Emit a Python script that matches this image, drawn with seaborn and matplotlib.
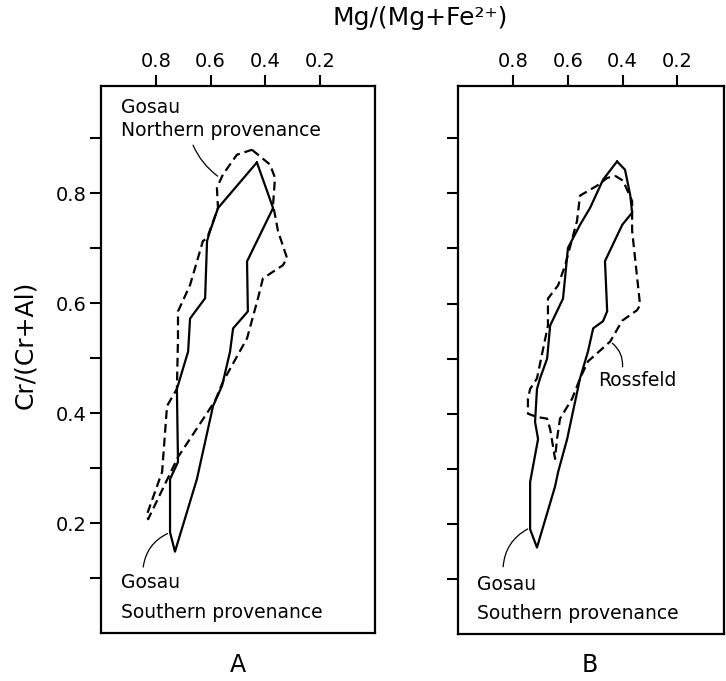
import numpy as np
import pandas as pd
import matplotlib
matplotlib.use("Agg")
import matplotlib.pyplot as plt
import seaborn as sns

# Outline of Gosau, southern provenance (panel A)
a_south_x = [0.431, 0.372, 0.467, 0.464, 0.518, 0.529, 0.558, 0.591, 0.650, 0.730,
             0.748, 0.748, 0.719, 0.723, 0.682, 0.675, 0.620, 0.613, 0.602, 0.573]
a_south_y = [0.856, 0.773, 0.676, 0.585, 0.554, 0.512, 0.450, 0.413, 0.280, 0.148,
             0.183, 0.280, 0.311, 0.444, 0.512, 0.572, 0.609, 0.713, 0.731, 0.773]

# Outline of Gosau, northern provenance (panel A)
a_north_x = [0.449, 0.383, 0.365, 0.372, 0.354, 0.321, 0.336, 0.409, 0.427, 0.467,
             0.555, 0.584, 0.719, 0.828, 0.832, 0.777, 0.759, 0.723, 0.719, 0.719,
             0.675, 0.628, 0.613, 0.573, 0.577, 0.555, 0.504]
a_north_y = [0.879, 0.852, 0.828, 0.779, 0.731, 0.682, 0.669, 0.645, 0.609, 0.536,
             0.457, 0.422, 0.320, 0.207, 0.216, 0.293, 0.413, 0.444, 0.536, 0.585,
             0.633, 0.713, 0.718, 0.773, 0.810, 0.834, 0.870]

# Outline of Gosau, southern provenance (panel B)
b_south_x = [0.420, 0.391, 0.372, 0.365, 0.401, 0.464, 0.456, 0.471, 0.507, 0.526,
             0.555, 0.602, 0.635, 0.646, 0.712, 0.737, 0.737, 0.708, 0.719, 0.712,
             0.701, 0.675, 0.664, 0.617, 0.599, 0.555, 0.518, 0.471]
b_south_y = [0.858, 0.843, 0.797, 0.765, 0.743, 0.677, 0.586, 0.568, 0.555, 0.513,
             0.464, 0.354, 0.294, 0.268, 0.157, 0.190, 0.276, 0.354, 0.385, 0.445,
             0.464, 0.500, 0.560, 0.609, 0.701, 0.743, 0.774, 0.825]

# Outline of Rossfeld (panel B)
b_ross_x = [0.427, 0.398, 0.365, 0.365, 0.336, 0.347, 0.401, 0.445, 0.526, 0.555,
            0.584, 0.628, 0.639, 0.646, 0.664, 0.675, 0.712, 0.745, 0.745, 0.737,
            0.712, 0.672, 0.672, 0.635, 0.609, 0.566, 0.555, 0.493, 0.456]
b_ross_y = [0.832, 0.823, 0.786, 0.732, 0.597, 0.588, 0.569, 0.531, 0.495, 0.464,
            0.427, 0.391, 0.354, 0.318, 0.372, 0.391, 0.394, 0.400, 0.427, 0.445,
            0.464, 0.560, 0.609, 0.633, 0.670, 0.750, 0.796, 0.814, 0.828]

x_ticks = [0.8, 0.6, 0.4, 0.2]
x_tick_labels = ["0.8", "0.6", "0.4", "0.2"]
y_ticks = [0.2, 0.4, 0.6, 0.8]
y_tick_labels = ["0.2", "0.4", "0.6", "0.8"]
y_minor = [0.1, 0.3, 0.5, 0.7, 0.9]

sns.set_style("ticks")
plt.rcParams["font.family"] = ["DejaVu Sans"]
plt.rcParams.update({"text.color": "black", "axes.labelcolor": "black",
                     "xtick.color": "black", "ytick.color": "black"})

fig = plt.figure(figsize=(7.26, 6.81), dpi=100)
ax_a = fig.add_axes([101 / 726, 1 - 633 / 681, 274 / 726, 547 / 681])
ax_b = fig.add_axes([458 / 726, 1 - 634 / 681, 266 / 726, 548 / 681])

DASH = (0, (4, 2.2))


def outline(xs, ys):
    xs = list(xs) + [xs[0]]
    ys = list(ys) + [ys[0]]
    return pd.DataFrame({"x": xs, "y": ys})


def draw(ax, xs, ys, dashed):
    df = outline(xs, ys)
    n_before = len(ax.lines)
    sns.lineplot(data=df, x="x", y="y", sort=False, estimator=None,
                 color="black", lw=1.6, ax=ax)
    if dashed:
        for ln in ax.lines[n_before:]:
            ln.set_linestyle(DASH)


draw(ax_a, a_south_x, a_south_y, False)
draw(ax_a, a_north_x, a_north_y, True)
draw(ax_b, b_south_x, b_south_y, False)
draw(ax_b, b_ross_x, b_ross_y, True)

for ax, xr in ((ax_a, 0.0), (ax_b, 0.03)):
    ax.set_xlim(1.0, xr)
    ax.set_ylim(0.0, 0.995)
    ax.set_xlabel("")
    ax.set_ylabel("")
    ax.xaxis.tick_top()
    ax.set_xticks(x_ticks)
    ax.set_xticklabels(x_tick_labels, fontsize=14)
    ax.set_yticks(y_ticks)
    ax.set_yticks(y_minor, minor=True)
    ax.tick_params(axis="both", which="both", direction="out", length=8,
                   width=1.5, color="black", labelcolor="black")
    ax.tick_params(axis="x", pad=3)
    ax.tick_params(axis="y", pad=2)
    for sp in ax.spines.values():
        sp.set_visible(True)
        sp.set_linewidth(1.6)
        sp.set_color("black")

ax_a.set_yticklabels(y_tick_labels, fontsize=14)
ax_b.set_yticklabels([])

# Annotations with leader lines
txt_kw = dict(fontsize=13.5, ha="left", va="center", color="black")
lead = dict(arrowstyle="-", lw=0.9, color="black")

ax_a.text(0.927, 0.956, "Gosau", **txt_kw)
ax_a.text(0.927, 0.914, "Northern provenance", **txt_kw)
ax_a.annotate("", xy=(0.566, 0.828), xytext=(0.668, 0.892),
              arrowprops=dict(lead, connectionstyle="arc3,rad=0.15"))

ax_a.text(0.927, 0.091, "Gosau", **txt_kw)
ax_a.text(0.927, 0.038, "Southern provenance", **txt_kw)
ax_a.annotate("", xy=(0.748, 0.183), xytext=(0.847, 0.115),
              arrowprops=dict(lead, connectionstyle="arc3,rad=-0.3"))

ax_b.text(0.931, 0.089, "Gosau", **txt_kw)
ax_b.text(0.931, 0.038, "Southern provenance", **txt_kw)
ax_b.annotate("", xy=(0.737, 0.193), xytext=(0.836, 0.117),
              arrowprops=dict(lead, connectionstyle="arc3,rad=-0.3"))

ax_b.text(0.489, 0.460, "Rossfeld", **txt_kw)
ax_b.annotate("", xy=(0.445, 0.531), xytext=(0.401, 0.480),
              arrowprops=dict(lead, connectionstyle="arc3,rad=0.3"))

fig.text(420 / 726, 1 - 18 / 681, "Mg/(Mg+Fe²⁺)", fontsize=18,
         ha="center", va="center", color="black")
fig.text(25 / 726, 1 - 345 / 681, "Cr/(Cr+Al)", fontsize=18, rotation=90,
         ha="center", va="center", color="black")
fig.text(238 / 726, 1 - 665 / 681, "A", fontsize=17, ha="center", va="center",
         color="black")
fig.text(590 / 726, 1 - 665 / 681, "B", fontsize=17, ha="center", va="center",
         color="black")

fig.savefig("out.png", dpi=100)
